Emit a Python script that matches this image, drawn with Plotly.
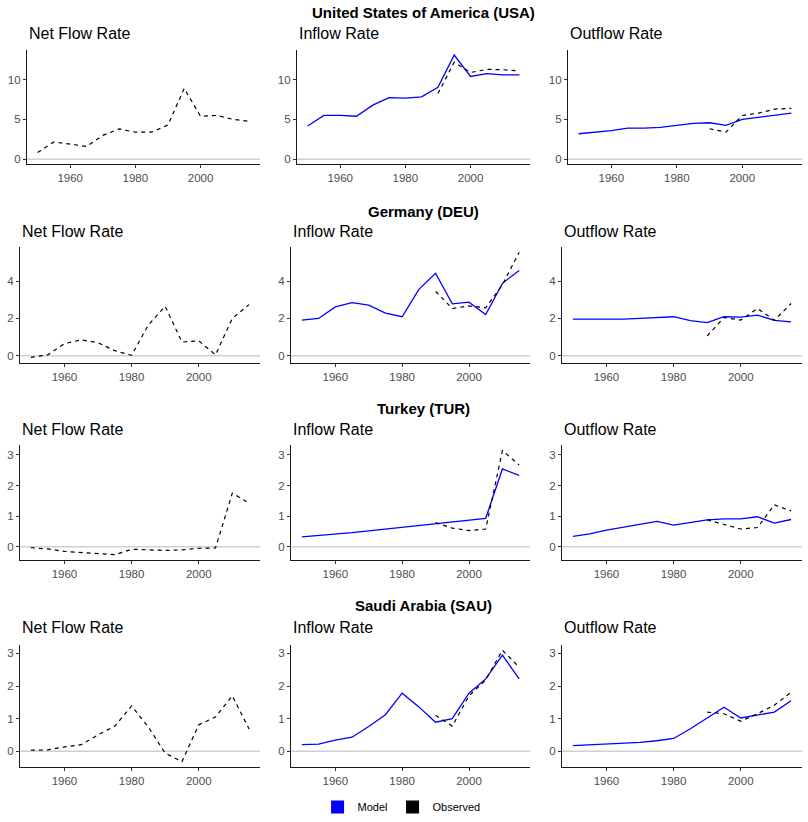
import plotly.graph_objects as go

# ---------------- data ----------------
years = list(range(1950, 2020, 5))
obs_years = list(range(1990, 2020, 5))

countries = ["United States of America (USA)", "Germany (DEU)", "Turkey (TUR)", "Saudi Arabia (SAU)"]
panel_titles = ["Net Flow Rate", "Inflow Rate", "Outflow Rate"]
tick_steps = [5, 2, 1, 1]
x_ticks = [1960, 1980, 2000]

usa_net = [0.83, 2.17, 1.9, 1.6, 3.0, 3.8, 3.4, 3.4, 4.3, 8.9, 5.4, 5.5, 5.0, 4.75]
usa_in_model = [4.17, 5.5, 5.5, 5.4, 6.8, 7.75, 7.67, 7.83, 9.04, 13.1, 10.4, 10.75, 10.6, 10.6]
usa_in_obs = [8.25, 12.2, 10.9, 11.3, 11.25, 11.1]
usa_out_model = [3.2, 3.4, 3.6, 3.9, 3.9, 4.0, 4.25, 4.5, 4.58, 4.25, 5.0, 5.25, 5.5, 5.8]
usa_out_obs = [3.83, 3.4, 5.5, 5.8, 6.3, 6.4]

deu_net = [-0.09, 0.05, 0.65, 0.85, 0.7, 0.27, 0.02, 1.65, 2.65, 0.73, 0.8, 0.05, 2.0, 2.74]
deu_in_model = [1.91, 2.0, 2.62, 2.85, 2.71, 2.28, 2.09, 3.56, 4.42, 2.78, 2.87, 2.21, 3.88, 4.57]
deu_in_obs = [3.45, 2.53, 2.67, 2.57, 3.8, 5.54]
deu_out_model = [1.96, 1.96, 1.93, 1.96, 2.0, 2.05, 2.09, 1.88, 1.77, 2.09, 2.07, 2.18, 1.89, 1.82]
deu_out_obs = [1.06, 2.05, 1.91, 2.53, 1.9, 2.8]

tur_net = [-0.03, -0.07, -0.15, -0.18, -0.23, -0.26, -0.08, -0.1, -0.12, -0.1, -0.05, -0.04, 1.75, 1.42]
tur_in_model = [0.32, 0.36, 0.41, 0.46, 0.52, 0.58, 0.64, 0.70, 0.76, 0.81, 0.87, 0.93, 2.54, 2.33]
tur_in_obs = [0.79, 0.61, 0.53, 0.58, 3.14, 2.67]
tur_out_model = [0.34, 0.42, 0.54, 0.63, 0.74, 0.83, 0.71, 0.8, 0.88, 0.91, 0.91, 0.98, 0.77, 0.89]
tur_out_obs = [0.88, 0.72, 0.58, 0.63, 1.37, 1.17]

sau_net = [0.03, 0.04, 0.13, 0.2, 0.5, 0.77, 1.39, 0.74, -0.06, -0.32, 0.81, 1.05, 1.7, 0.68]
sau_in_model = [0.2, 0.22, 0.34, 0.43, 0.76, 1.12, 1.78, 1.36, 0.89, 1.0, 1.78, 2.22, 2.95, 2.22]
sau_in_obs = [1.1, 0.77, 1.7, 2.19, 3.1, 2.58]
sau_out_model = [0.17, 0.19, 0.21, 0.24, 0.27, 0.32, 0.39, 0.69, 1.02, 1.35, 1.02, 1.12, 1.2, 1.55]
sau_out_obs = [1.2, 1.15, 0.92, 1.15, 1.41, 1.81]

rows_data = [
    (usa_net, usa_in_model, usa_in_obs, usa_out_model, usa_out_obs),
    (deu_net, deu_in_model, deu_in_obs, deu_out_model, deu_out_obs),
    (tur_net, tur_in_model, tur_in_obs, tur_out_model, tur_out_obs),
    (sau_net, sau_in_model, sau_in_obs, sau_out_model, sau_out_obs),
]

# ---------------- layout geometry (pixels) ----------------
W, H = 808, 822
FONT = "Liberation Sans, Arial, sans-serif"
BLUE = "#0000FF"
row_x_px = [
    [(27, 260), (297, 530), (568, 802)],
    [(20, 260), (291, 530), (562, 802)],
    [(20, 260), (291, 530), (562, 802)],
    [(20, 260), (291, 530), (562, 802)],
]
row_y_px = [(50, 165), (248, 364), (447, 562), (647, 770)]
country_title_y = [13, 212, 410, 608]
panel_title_y = [34, 232, 431, 630]

fig = go.Figure()
layout = dict(
    width=W, height=H, margin=dict(l=0, r=0, t=0, b=0),
    paper_bgcolor="white", plot_bgcolor="white",
    font=dict(family=FONT, color="black"),
    showlegend=True,
    legend=dict(orientation="h", x=0.497, xanchor="center", y=1 - 810 / H, yanchor="middle",
                font=dict(size=11, color="black"), itemwidth=30, tracegroupgap=0),
)
annotations = []
shapes = []

xpad = 0.05 * (years[-1] - years[0])
xrange = [years[0] - xpad, years[-1] + xpad]

line_model = dict(color=BLUE, width=1.3)
line_obs = dict(color="black", width=1.2, dash="4px,4px")

for r, (net, in_m, in_o, out_m, out_o) in enumerate(rows_data):
    allv = net + in_m + in_o + out_m + out_o + [0]
    lo, hi = min(allv), max(allv)
    pad = 0.05 * (hi - lo)
    yrange = [lo - pad, hi + pad]
    ytop, ybot = row_y_px[r]
    ydom = [1 - ybot / H, 1 - ytop / H]
    series = [
        [(net, years, line_obs)],
        [(in_m, years, line_model), (in_o, obs_years, line_obs)],
        [(out_m, years, line_model), (out_o, obs_years, line_obs)],
    ]
    for c in range(3):
        idx = r * 3 + c + 1
        xname = "x" if idx == 1 else f"x{idx}"
        yname = "y" if idx == 1 else f"y{idx}"
        xkey = "xaxis" if idx == 1 else f"xaxis{idx}"
        ykey = "yaxis" if idx == 1 else f"yaxis{idx}"
        x0, x1 = row_x_px[r][c]
        xdom = [x0 / W, x1 / W]
        axis_common = dict(showgrid=False, zeroline=False, showline=True, linecolor="#1a1a1a",
                           linewidth=1.1, ticks="outside", ticklen=3, tickcolor="#333333",
                           tickwidth=1, tickfont=dict(size=11.5, color="#4d4d4d", family=FONT))
        layout[xkey] = dict(domain=xdom, anchor=yname, range=xrange, tickvals=x_ticks, **axis_common)
        layout[ykey] = dict(domain=ydom, anchor=xname, range=yrange, tick0=0, dtick=tick_steps[r],
                            **axis_common)
        shapes.append(dict(type="line", xref=f"{xname} domain", x0=0, x1=1, yref=yname, y0=0, y1=0,
                           line=dict(color="#cfcfcf", width=1.6), layer="below"))
        for vals, xs, ln in series[c]:
            fig.add_trace(go.Scatter(x=xs, y=vals, mode="lines", line=ln, xaxis=xname, yaxis=yname,
                                     showlegend=False, hoverinfo="x+y"))
        annotations.append(dict(text=panel_titles[c], xref="paper", yref="paper", x=xdom[0],
                                y=1 - panel_title_y[r] / H, xanchor="left", yanchor="middle",
                                showarrow=False, font=dict(size=16, color="black", family=FONT)))
    annotations.append(dict(text=f"<b>{countries[r]}</b>", xref="paper", yref="paper", x=423 / W,
                            y=1 - country_title_y[r] / H, xanchor="center", yanchor="middle",
                            showarrow=False, font=dict(size=15, color="black", family=FONT)))

# legend entries
fig.add_trace(go.Scatter(x=[None], y=[None], mode="markers", name="Model",
                         marker=dict(symbol="square", size=13, color=BLUE)))
fig.add_trace(go.Scatter(x=[None], y=[None], mode="markers", name="Observed",
                         marker=dict(symbol="square", size=13, color="black")))

layout["annotations"] = annotations
layout["shapes"] = shapes
fig.update_layout(**layout)
fig.write_html("out.html")
